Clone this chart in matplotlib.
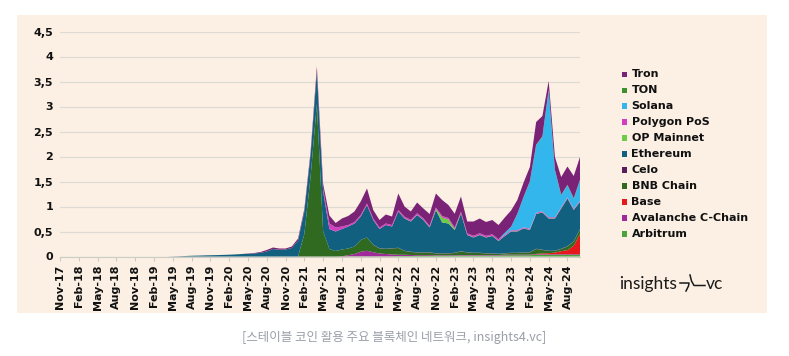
import matplotlib
matplotlib.use('Agg')
import matplotlib.pyplot as plt
from matplotlib.patches import Rectangle
from matplotlib.lines import Line2D

# ---------------- data (monthly, Nov-17 .. Oct-24) ----------------
n_months = 84
tick_labels = ['Nov-17', 'Feb-18', 'May-18', 'Aug-18', 'Nov-18', 'Feb-19', 'May-19',
               'Aug-19', 'Nov-19', 'Feb-20', 'May-20', 'Aug-20', 'Nov-20', 'Feb-21',
               'May-21', 'Aug-21', 'Nov-21', 'Feb-22', 'May-22', 'Aug-22', 'Nov-22',
               'Feb-23', 'May-23', 'Aug-23', 'Nov-23', 'Feb-24', 'May-24', 'Aug-24']
y_tick_values = [0, 0.5, 1, 1.5, 2, 2.5, 3, 3.5, 4, 4.5]
y_tick_labels = ['0', '0,5', '1', '1,5', '2', '2,5', '3', '3,5', '4', '4,5']

arbitrum = [0] * 46 + [0.005, 0.005, 0.005, 0.005, 0.005, 0.005, 0.005, 0.005,
                       0.01, 0.01, 0.01, 0.01, 0.01, 0.01,
                       0.015, 0.015, 0.015, 0.015,
                       0.02, 0.02, 0.02, 0.02, 0.02, 0.02, 0.02,
                       0.025, 0.025, 0.025, 0.025, 0.025,
                       0.035, 0.035, 0.035, 0.035, 0.035, 0.035, 0.035, 0.035]
avalanche = [0] * 45 + [0.005, 0.02, 0.045, 0.09, 0.11, 0.08, 0.055, 0.045, 0.035, 0.025,
                        0.025, 0.02, 0.015, 0.015, 0.015,
                        0.01, 0.01, 0.01, 0.01, 0.01, 0.01, 0.01, 0.01, 0.01, 0.01, 0.01,
                        0.012, 0.012, 0.012, 0.012, 0.012, 0.012, 0.012, 0.012, 0.012,
                        0.012, 0.012, 0.012, 0.012]
base = [0] * 76 + [0.005, 0.015, 0.02, 0.03, 0.06, 0.08, 0.17, 0.4]
bnb = [0] * 39 + [0.45, 1.6, 3.05, 0.5, 0.15, 0.11, 0.135, 0.135, 0.15, 0.235, 0.265,
                  0.145, 0.1, 0.1, 0.12, 0.135, 0.075, 0.06, 0.055, 0.055, 0.055,
                  0.035, 0.035, 0.035, 0.045, 0.07, 0.05, 0.04, 0.04, 0.03, 0.03,
                  0.02, 0.023, 0.033, 0.033, 0.043, 0.043, 0.098, 0.068, 0.043, 0.033,
                  0.043, 0.073, 0.083, 0.093]
celo = [0] * 50 + [0.005] * 34
ethereum = [0] * 18 + [0.003, 0.006, 0.01, 0.015, 0.018, 0.022, 0.025, 0.028, 0.032, 0.036,
                       0.042, 0.05,
                       0.055, 0.06, 0.075, 0.1, 0.15, 0.135, 0.14, 0.17, 0.32, 0.45,
                       0.44, 0.65, 0.8, 0.4, 0.39, 0.41, 0.44, 0.46, 0.47, 0.65,
                       0.495, 0.385, 0.475, 0.435, 0.725, 0.645, 0.605, 0.745, 0.645, 0.495,
                       0.865, 0.615, 0.595, 0.455, 0.755, 0.345, 0.305, 0.355, 0.315, 0.345,
                       0.255, 0.345, 0.425, 0.425, 0.475, 0.445, 0.695, 0.745, 0.645, 0.645,
                       0.805, 0.955, 0.625, 0.545]
op_mainnet = [0] * 55 + [0.005, 0.005, 0.005, 0.005, 0.005, 0.02, 0.1, 0.08, 0.02] + [0.005] * 20
polygon = [0] * 42 + [0.05, 0.11, 0.08, 0.05, 0.03] + [0.03] * 24 + [0.02] * 13
solana = [0] * 71 + [0.04, 0.07, 0.33, 0.61, 0.94, 1.35, 1.49, 2.54, 0.94, 0.24, 0.24, 0.2, 0.41]
ton = [0] * 75 + [0.01] * 9
tron = [0] * 30 + [0.005, 0.01, 0.015, 0.03, 0.03, 0.025, 0.02, 0.03, 0.04, 0.05,
                   0.06, 0.1, 0.1, 0.16, 0.09, 0.16, 0.18, 0.21, 0.27, 0.30,
                   0.17, 0.15, 0.18, 0.17, 0.33, 0.205, 0.165, 0.215, 0.195, 0.235,
                   0.28, 0.32, 0.26, 0.275, 0.305, 0.235, 0.285, 0.295, 0.275, 0.285,
                   0.285, 0.305, 0.325, 0.275, 0.285, 0.285, 0.455, 0.405, 0.175, 0.255,
                   0.355, 0.365, 0.445, 0.455]

# stacking order bottom -> top
series_names = ['Arbitrum', 'Avalanche C-Chain', 'Base', 'BNB Chain', 'Celo', 'Ethereum',
                'OP Mainnet', 'Polygon PoS', 'Solana', 'TON', 'Tron']
series_values = [arbitrum, avalanche, base, bnb, celo, ethereum,
                 op_mainnet, polygon, solana, ton, tron]
series_colors = ['#4BA33B', '#A12A9B', '#E5191B', '#2F6A20', '#5A1D5C', '#12607F',
                 '#6CCB47', '#D33FC3', '#33B6EC', '#3E8E2E', '#7A2376']

# ---------------- figure ----------------
W, H = 789, 356
fig = plt.figure(figsize=(W / 100, H / 100), dpi=100)
fig.patch.set_facecolor('white')


def fx(px):
    return px / W


def fy(py):
    return 1 - py / H


fig.patches.append(Rectangle((fx(17), fy(313)), fx(767) - fx(17), fy(15) - fy(313),
                             transform=fig.transFigure, facecolor='#FBF0E3',
                             edgecolor='none', zorder=-5))

ax = fig.add_axes([fx(60), fy(256.5), fx(580) - fx(60), fy(31.5) - fy(256.5)])
ax.set_zorder(2)
ax.set_facecolor('none')

x = list(range(n_months))
ax.stackplot(x, *series_values, colors=series_colors, labels=series_names,
             linewidth=0, zorder=3)

ax.set_xlim(0, n_months - 1)
ax.set_ylim(0, 4.5)
ax.set_yticks(y_tick_values)
ax.set_yticklabels(y_tick_labels)
ax.set_xticks(list(range(0, n_months - 2, 3)))
ax.set_xticklabels(tick_labels, rotation=90)

ax.yaxis.grid(True, color='#DEDAD4', linewidth=0.9, zorder=0)
ax.set_axisbelow(True)
for s in ['top', 'right', 'left']:
    ax.spines[s].set_visible(False)
ax.spines['bottom'].set_color('#CFCBC5')
ax.spines['bottom'].set_linewidth(0.8)

ax.tick_params(axis='y', length=0, pad=5, labelsize=8)
ax.tick_params(axis='x', length=3, width=0.6, color='#C4C0BA', pad=3, labelsize=8)
for lab in ax.get_xticklabels() + ax.get_yticklabels():
    lab.set_fontweight('bold')
    lab.set_color('#111111')

# ---------------- legend (top -> bottom) ----------------
leg_top = 74.3
leg_step = 15.97
sq = 5.5
for k, idx in enumerate(range(len(series_names) - 1, -1, -1)):
    yc = leg_top + leg_step * k
    fig.patches.append(Rectangle((fx(621.5), fy(yc + sq / 2)), sq / W, sq / H,
                                 transform=fig.transFigure,
                                 facecolor=series_colors[idx], edgecolor='none', zorder=3))
    fig.text(fx(631.5), fy(yc), series_names[idx], fontsize=8, fontweight='bold',
             va='center', ha='left', color='#111111')

# ---------------- logo ----------------
fig.text(fx(619), fy(289), 'insights', fontsize=12.5, family='Lato',
         va='baseline', ha='left', color='#1A1A1A')
fig.add_artist(Line2D([fx(680), fx(689), fx(688.5), fx(686)],
                      [fy(283), fy(283), fy(286), fy(291)],
                      transform=fig.transFigure, color='#1A1A1A', lw=1.1))
fig.add_artist(Line2D([fx(690), fx(691.5), fx(694), fx(705)],
                      [fy(275), fy(281), fy(285.5), fy(285.5)],
                      transform=fig.transFigure, color='#1A1A1A', lw=1.1))
fig.text(fx(706), fy(289), 'vc', fontsize=12.5, family='Lato',
         va='baseline', ha='left', color='#1A1A1A')

# ---------------- caption ----------------
fig.text(fx(394), fy(337), '[스테이블 코인 활용 주요 블록체인 네트워크, insights4.vc]',
         fontsize=9, family=['Noto Sans CJK KR', 'DejaVu Sans'], style='italic',
         ha='center', va='center', color='#9A9EA8')

fig.savefig('out.png', dpi=100, facecolor='white')
